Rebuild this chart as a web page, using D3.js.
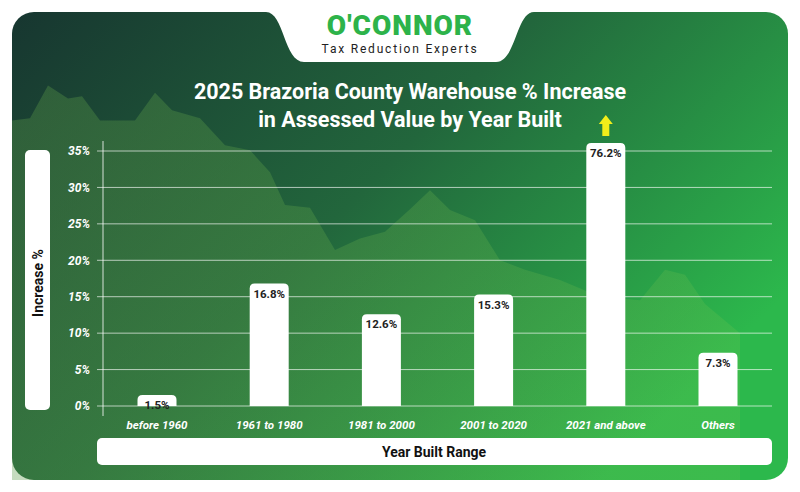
<!DOCTYPE html>
<html><head><meta charset="utf-8">
<script src="https://cdn.jsdelivr.net/npm/d3@7"></script>
<style>body{margin:0;background:#fff}svg{display:block;font-family:Roboto,"Open Sans",sans-serif}</style>
</head><body><svg id="chart"></svg>
<script>
const categories = ["before 1960", "1961 to 1980", "1981 to 2000", "2001 to 2020", "2021 and above", "Others"];
const values = [1.5, 16.8, 12.6, 15.3, 76.2, 7.3];
const yTicks = [0, 5, 10, 15, 20, 25, 30, 35];
// decorative backdrop silhouette (x in px, height in %)
const hillX = [12, 30, 48, 68, 82, 100, 135, 155, 172, 200, 225, 250, 270, 285, 310, 335, 360, 385, 410, 430, 450, 475, 500, 525, 560, 600, 640, 665, 685, 705, 740];
const hillY = [39.2, 39.5, 44, 42.2, 42.5, 39.2, 39.2, 43, 40.6, 39.5, 35.8, 35.1, 32.1, 27.6, 27.2, 21.4, 23, 23.9, 27, 29.6, 26.9, 25.5, 20, 18.7, 17.3, 15, 14.5, 18.7, 18, 14, 10];

const width = 800, height = 492;
const marginLeft = 103, marginRight = 772, marginTop = 151, marginBottom = 406;

const svg = d3.select("#chart").attr("width", width).attr("height", height);
const defs = svg.append("defs");
const bg = defs.append("linearGradient").attr("id", "bg").attr("x1", 0).attr("y1", 0).attr("x2", 1).attr("y2", 0.6);
bg.append("stop").attr("offset", 0).attr("stop-color", "#173630");
bg.append("stop").attr("offset", 0.5).attr("stop-color", "#22663c");
bg.append("stop").attr("offset", 1).attr("stop-color", "#2cb84c");
const hg = defs.append("linearGradient").attr("id", "hill").attr("x1", 0).attr("y1", 0).attr("x2", 1).attr("y2", 0);
hg.append("stop").attr("offset", 0).attr("stop-color", "#5a9a48").attr("stop-opacity", 0.35);
hg.append("stop").attr("offset", 1).attr("stop-color", "#7bc850").attr("stop-opacity", 0.2);

svg.append("rect").attr("x", 12).attr("y", 12).attr("width", 776).attr("height", 468).attr("rx", 22).attr("fill", "url(#bg)");

const y = d3.scaleLinear().domain([0, 35]).range([marginBottom, marginTop]);
const hillArea = d3.area().x((d, i) => hillX[i]).y0(480).y1(d => y(d)).curve(d3.curveLinear);
svg.append("path").datum(hillY).attr("d", hillArea).attr("fill", "url(#hill)");

// logo tab
const tab = d3.path();
tab.moveTo(266, 12); tab.bezierCurveTo(284, 12, 284, 62, 304, 62);
tab.lineTo(496, 62); tab.bezierCurveTo(516, 62, 516, 12, 534, 12); tab.closePath();
svg.append("path").attr("d", tab.toString()).attr("fill", "#fff");
svg.append("text").attr("x", 400).attr("y", 35).attr("text-anchor", "middle")
  .attr("font-size", 28).attr("font-weight", 900).attr("fill", "#2db34a").attr("letter-spacing", 1).text("O'CONNOR");
svg.append("text").attr("x", 400).attr("y", 53).attr("text-anchor", "middle")
  .attr("font-size", 12).attr("fill", "#222").attr("letter-spacing", 1.8).text("Tax Reduction Experts");

svg.append("text").attr("x", 410).attr("y", 99).attr("text-anchor", "middle").attr("fill", "#fff")
  .attr("font-size", 21.5).attr("font-weight", 700).text("2025 Brazoria County Warehouse % Increase");
svg.append("text").attr("x", 410).attr("y", 127).attr("text-anchor", "middle").attr("fill", "#fff")
  .attr("font-size", 21.5).attr("font-weight", 700).text("in Assessed Value by Year Built");

const x = d3.scalePoint().domain(categories).range([157, 718]);

svg.append("g").selectAll("line").data(yTicks).join("line")
  .attr("x1", 97).attr("x2", marginRight).attr("y1", d => y(d)).attr("y2", d => y(d))
  .attr("stroke", "#fff").attr("stroke-opacity", 0.65).attr("stroke-width", 1);
svg.append("line").attr("x1", marginLeft).attr("x2", marginLeft).attr("y1", 141).attr("y2", 416)
  .attr("stroke", "#fff").attr("stroke-opacity", 0.8);

const yAxis = d3.axisLeft(y).tickValues(yTicks).tickFormat(d => d + "%").tickSize(0);
svg.append("g").attr("transform", `translate(93,0)`).call(yAxis)
  .call(g => g.select(".domain").remove())
  .selectAll("text").attr("fill", "#fff").attr("font-size", 12).attr("font-weight", 700)
  .attr("font-style", "italic").attr("font-family", "Roboto, sans-serif");

const cap = 36.1;
const bw = 39;
const bars = svg.append("g").selectAll("g").data(categories).join("g");
bars.append("path").attr("fill", "#fff").attr("d", (c, i) => {
  const v = Math.min(values[i], cap), cx = x(c);
  const x0 = cx - bw / 2, yt = y(v), yb = y(0), r = Math.min(5, yb - yt);
  return `M${x0},${yb}V${yt + r}Q${x0},${yt} ${x0 + r},${yt}H${x0 + bw - r}Q${x0 + bw},${yt} ${x0 + bw},${yt + r}V${yb}Z`;
});
bars.append("text").attr("x", c => x(c))
  .attr("y", (c, i) => y(Math.min(values[i], cap)) + 10).attr("dy", "0.35em").attr("text-anchor", "middle")
  .attr("font-size", 11.5).attr("font-weight", 700).attr("fill", "#222")
  .text((c, i) => values[i].toFixed(1) + "%");

// overflow arrow for clipped bar
values.forEach((v, i) => {
  if (v <= cap) return;
  const cx = x(categories[i]), yt = y(cap);
  svg.append("path").attr("fill", "#f2ee1a")
    .attr("d", `M${cx - 3.5},${yt - 7}V${yt - 19}H${cx - 7}L${cx},${yt - 28}L${cx + 7},${yt - 19}H${cx + 3.5}V${yt - 7}Z`);
});

svg.append("g").selectAll("text").data(categories).join("text")
  .attr("x", c => x(c)).attr("y", 429).attr("text-anchor", "middle")
  .attr("fill", "#fff").attr("font-size", 11.5).attr("font-weight", 700).attr("font-style", "italic").text(c => c);

svg.append("rect").attr("x", 97).attr("y", 438).attr("width", 675).attr("height", 27).attr("rx", 5).attr("fill", "#fff");
svg.append("text").attr("x", 434).attr("y", 457).attr("text-anchor", "middle").attr("font-size", 14)
  .attr("font-weight", 700).attr("fill", "#111").text("Year Built Range");

svg.append("rect").attr("x", 25).attr("y", 150).attr("width", 25).attr("height", 260).attr("rx", 5).attr("fill", "#fff");
svg.append("text").attr("transform", "translate(43,283) rotate(-90)").attr("text-anchor", "middle")
  .attr("font-size", 14).attr("font-weight", 700).attr("fill", "#111").text("Increase %");
</script></body></html>
